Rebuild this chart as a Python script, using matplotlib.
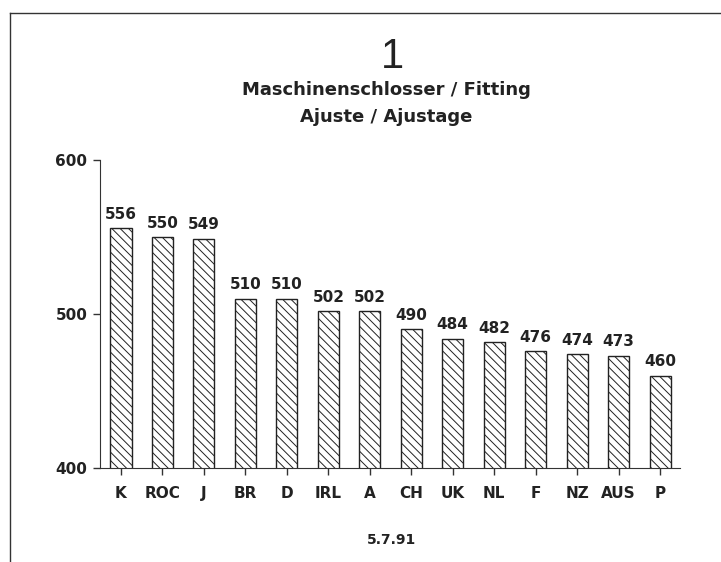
import matplotlib
matplotlib.use("Agg")
import matplotlib.pyplot as plt
from matplotlib.lines import Line2D

countries = ["K", "ROC", "J", "BR", "D", "IRL", "A", "CH", "UK", "NL", "F", "NZ", "AUS", "P"]
scores = [556, 550, 549, 510, 510, 502, 502, 490, 484, 482, 476, 474, 473, 460]
yticks = [400, 500, 600]

plt.rcParams['font.family'] = ['DejaVu Sans']
plt.rcParams['hatch.linewidth'] = 0.7
plt.rcParams['hatch.color'] = "#333333"

W, H = 721, 562
fig = plt.figure(figsize=(W/100, H/100), dpi=100)
ax = fig.add_axes([100/W, 1-468/H, 580/W, 308/H])

x = range(len(countries))
ax.bar(x, scores, width=0.51, color="white", edgecolor="#222222",
       linewidth=1.0, hatch="\\\\\\\\")
for xi, v in zip(x, scores):
    ax.text(xi, v + 4, str(v), ha="center", va="bottom", fontsize=11,
            fontweight="bold", color="#222222")

ax.set_ylim(400, 600)
ax.set_xlim(-0.506, 13.48)
ax.set_yticks(yticks)
ax.set_yticklabels([str(t) for t in yticks], fontsize=11, fontweight="bold", color="#222222")
ax.set_xticks(list(x))
ax.set_xticklabels(countries, fontsize=11, fontweight="bold", color="#222222")
ax.tick_params(axis="y", direction="out", length=5, width=1, color="#333333", pad=4)
ax.tick_params(axis="x", direction="out", length=5, width=1, color="#333333", pad=8)
for s in ["top", "right"]:
    ax.spines[s].set_visible(False)
for s in ["left", "bottom"]:
    ax.spines[s].set_color("#333333")

fig.text(392/W, 1-57/H, "1", ha="center", va="center", fontsize=30,
         family="Liberation Sans", color="#222222")
fig.text(386/W, 1-90/H, "Maschinenschlosser / Fitting", ha="center", va="center",
         fontsize=13, fontweight="bold", color="#222222")
fig.text(386/W, 1-117/H, "Ajuste / Ajustage", ha="center", va="center",
         fontsize=13, fontweight="bold", color="#222222")
fig.text(391/W, 1-540/H, "5.7.91", ha="center", va="center",
         fontsize=10, fontweight="bold", color="#222222")

# outer frame
fig.add_artist(Line2D([10/W, 10/W], [0, 1-13/H], transform=fig.transFigure, color="#333333", lw=1))
fig.add_artist(Line2D([10/W, 1], [1-13/H, 1-13/H], transform=fig.transFigure, color="#333333", lw=1))

fig.savefig("out.png", dpi=100)
